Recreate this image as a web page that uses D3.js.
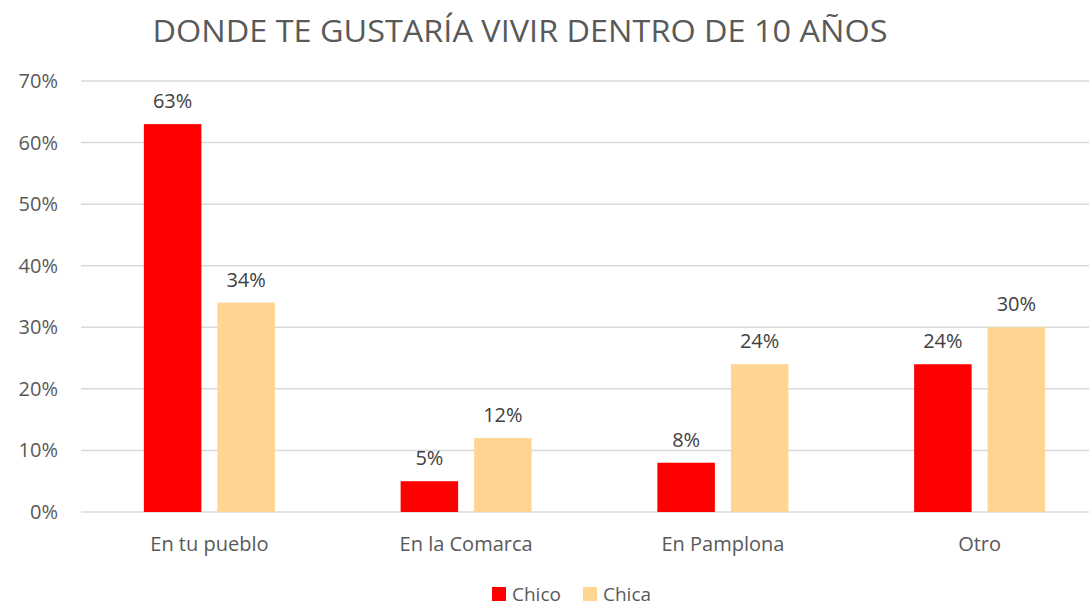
<!DOCTYPE html>
<html lang="es">
<head>
<meta charset="utf-8">
<script src="https://d3js.org/d3.v7.min.js"></script>
<style type="text/css">
body {
	margin: 0;
	background: #fff;
	font-family: "Open Sans", "Noto Sans", sans-serif;
}
</style>
</head>
<body>
<script type="text/javascript">

// Chart data
var categories = ["En tu pueblo", "En la Comarca", "En Pamplona", "Otro"];
var seriesNames = ["Chico", "Chica"];
var chico = [63, 5, 8, 24];
var chica = [34, 12, 24, 30];
var yTicks = [0, 10, 20, 30, 40, 50, 60, 70];
var title = "DONDE TE GUSTARÍA VIVIR DENTRO DE 10 AÑOS";

var width = 1089;
var height = 606;
var colors = ["#FF0000", "#FFD591"];

var svg = d3.select("body")
            .append("svg")
            .attr("width", width)
            .attr("height", height);

// plot area runs past the right edge, as in the original
var x = d3.scaleBand()
          .domain(categories)
          .range([81, 1108])
          .paddingInner(0)
          .paddingOuter(0);

var y = d3.scaleLinear()
          .domain([0, 70])
          .range([512, 81]);

var barW = 57.5;
var gap = 16;

// gridlines
svg.selectAll("line.grid")
   .data(yTicks)
   .enter()
   .append("line")
   .attr("class", "grid")
   .attr("x1", 81)
   .attr("x2", width)
   .attr("y1", function(d) { return y(d); })
   .attr("y2", function(d) { return y(d); })
   .style("stroke", "#D9D9D9")
   .style("stroke-width", 1.5);

// y tick labels
svg.selectAll("text.ytick")
   .data(yTicks)
   .enter()
   .append("text")
   .attr("class", "ytick")
   .attr("x", 58)
   .attr("y", function(d) { return y(d); })
   .attr("dy", "0.35em")
   .attr("text-anchor", "end")
   .style("font-size", "20px")
   .style("fill", "#595959")
   .text(function(d) { return d + "%"; });

// bars
var series = [chico, chica];
series.forEach(function(vals, s) {
  var offset = s === 0 ? -gap / 2 - barW : gap / 2;
  svg.selectAll("rect.s" + s)
     .data(vals)
     .enter()
     .append("rect")
     .attr("class", "s" + s)
     .attr("x", function(d, i) { return x(categories[i]) + x.bandwidth() / 2 + offset; })
     .attr("y", function(d) { return y(d); })
     .attr("width", barW)
     .attr("height", function(d) { return y(0) - y(d); })
     .style("fill", colors[s]);

  svg.selectAll("text.lbl" + s)
     .data(vals)
     .enter()
     .append("text")
     .attr("class", "lbl" + s)
     .attr("x", function(d, i) { return x(categories[i]) + x.bandwidth() / 2 + offset + barW / 2; })
     .attr("y", function(d) { return y(d) - 16; })
     .attr("text-anchor", "middle")
     .style("font-size", "20px")
     .style("fill", "#404040")
     .text(function(d) { return d + "%"; });
});

// category labels
svg.selectAll("text.cat")
   .data(categories)
   .enter()
   .append("text")
   .attr("class", "cat")
   .attr("x", function(d) { return x(d) + x.bandwidth() / 2; })
   .attr("y", 551)
   .attr("text-anchor", "middle")
   .style("font-size", "20px")
   .style("fill", "#595959")
   .text(function(d) { return d; });

// title
svg.append("text")
   .attr("x", 520)
   .attr("y", 42)
   .attr("text-anchor", "middle")
   .attr("textLength", 735)
   .attr("lengthAdjust", "spacingAndGlyphs")
   .style("font-size", "31px")
   .style("fill", "#595959")
   .text(title);

// legend (kept just inside the bottom edge)
var legendX = [492, 583];
var legend = svg.selectAll("g.legend")
                .data(seriesNames)
                .enter()
                .append("g")
                .attr("class", "legend")
                .attr("transform", function(d, i) { return "translate(" + legendX[i] + ",587)"; });

legend.append("rect")
      .attr("width", 14)
      .attr("height", 14)
      .style("fill", function(d, i) { return colors[i]; });

legend.append("text")
      .attr("x", 20)
      .attr("y", 14)
      .style("font-size", "19px")
      .style("fill", "#595959")
      .text(function(d) { return d; });

</script>
</body>
</html>
